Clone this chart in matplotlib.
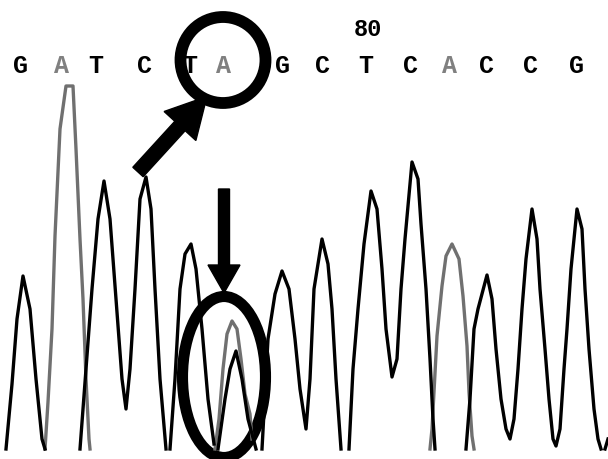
import numpy as np
import matplotlib
matplotlib.use('Agg')
from matplotlib import pyplot as plt
from matplotlib.patches import Ellipse, FancyArrow

# base calls over the trace, with their positions (image pixels)
bases = ['G', 'A', 'T', 'C', 'T', 'A', 'G', 'C', 'T', 'C', 'A', 'C', 'C', 'G']
base_x = [20, 61, 96, 144, 190, 223, 282, 322, 366, 411, 450, 486, 531, 577]
position_label = '80'
position_x = 368

# black trace (C, T, G signals), read point by point; nan = gap
black_x = [6, 12, 17, 23, 30, 36, 42, 45, np.nan,
           80, 86, 92, 98, 104, 110, 116, 122, 126,
           130, 135, 140, 146, 151, 155, 160, 166, np.nan,
           170, 175, 180, 185, 191, 196, 202, 208, 214, np.nan,
           218, 225, 230, 236, 242, 248, 256, np.nan,
           262, 268, 275, 282, 289, 295, 300, 306,
           310, 314, 322, 328, 332, 336, 341, np.nan,
           349, 353, 358, 364, 371, 377, 382, 386, 392,
           397, 401, 405, 412, 418, 421, 426, 430, 433, 435, np.nan,
           466, 470, 474, 478, 487, 492, 496, 501, 506, 510,
           514, 518, 522, 526, 532, 537, 540, 545, 549, 553, 556,
           560, 564, 567, 571, 577, 582, 585, 589, 594, 598, 601, np.nan,
           605, 608]
black_y = [450, 385, 320, 277, 310, 380, 440, 450, np.nan,
           450, 370, 290, 220, 182, 220, 300, 380, 410,
           370, 290, 200, 178, 210, 290, 380, 450, np.nan,
           450, 380, 290, 255, 245, 270, 330, 400, 445, np.nan,
           450, 400, 370, 352, 380, 420, 450, np.nan,
           450, 340, 295, 272, 290, 340, 390, 430,
           380, 290, 240, 265, 310, 380, 450, np.nan,
           450, 370, 310, 245, 192, 210, 270, 330, 378,
           360, 290, 240, 163, 180, 225, 290, 360, 420, 450, np.nan,
           450, 400, 330, 310, 276, 300, 350, 400, 430, 440,
           420, 370, 310, 260, 210, 240, 290, 350, 400, 440, 447,
           430, 370, 330, 270, 210, 230, 290, 350, 410, 440, 450, np.nan,
           450, 440]

# gray trace (A signal)
gray_x = [45, 48, 52, 55, 60, 66, 73, 76, 80, 83, 86, 89, 90, np.nan,
          215, 219, 223, 227, 232, 237, 241, 245, 250, 252, np.nan,
          430, 432, 437, 442, 446, 452, 459, 463, 467, 469, 472, 474]
gray_y = [450, 403, 330, 237, 130, 87, 87, 150, 240, 300, 380, 440, 450, np.nan,
          450, 420, 370, 335, 322, 330, 360, 395, 415, 440, np.nan,
          450, 430, 337, 287, 257, 245, 260, 297, 347, 393, 437, 450]

fig = plt.figure(figsize=(6.08, 4.6), dpi=100)
ax = fig.add_axes([0, 0, 1, 1])
ax.set_xlim(0, 608)
ax.set_ylim(460, 0)
ax.axis('off')

ax.plot(gray_x, gray_y, color='#707070', lw=2.4)
ax.plot(black_x, black_y, color='black', lw=2.4)

for b, x in zip(bases, base_x):
    ax.text(x, 66, b, ha='center', va='center', fontsize=18, fontweight='bold',
            family='Liberation Mono', color='#808080' if b == 'A' else 'black')
ax.text(position_x, 30, position_label, ha='center', va='center', fontsize=17,
        fontweight='bold', family='Liberation Mono', color='black')

# highlight marks
ax.add_patch(Ellipse((223, 61), 85, 86, fill=False, lw=8.5, color='black'))
ax.add_patch(Ellipse((224, 378), 83, 161, fill=False, lw=8, color='black'))
ax.add_patch(FancyArrow(138, 173, 42, -46, width=14, head_width=43, head_length=40,
                        color='black'))
ax.add_patch(FancyArrow(224, 190, 0, 76, width=11, head_width=32, head_length=28,
                        color='black'))

fig.savefig('out.png', dpi=100)
